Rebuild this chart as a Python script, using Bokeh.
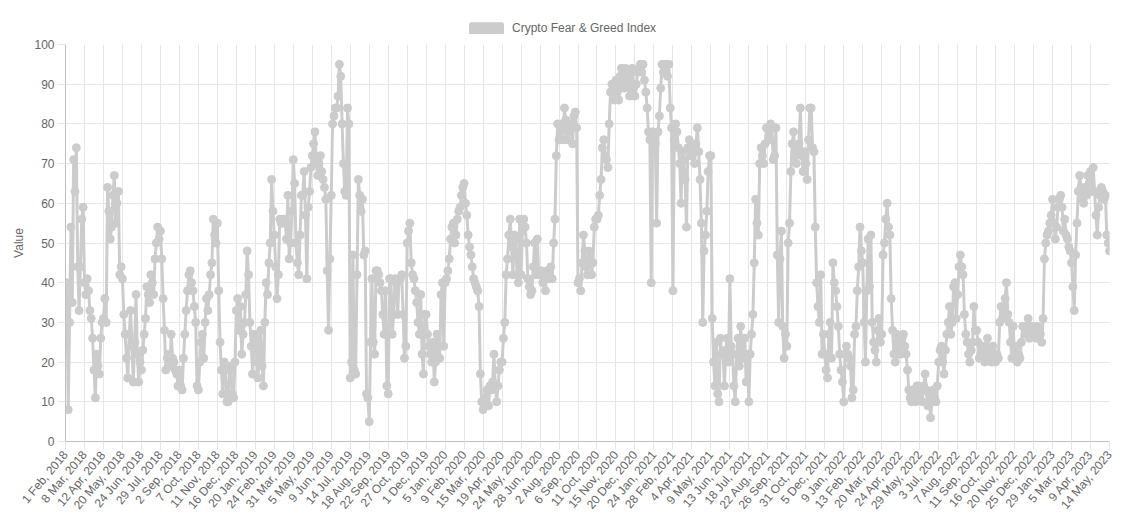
import numpy as np
from bokeh.plotting import figure
from bokeh.layouts import column
from bokeh.models import Range1d, FixedTicker, Legend, LegendItem
from bokeh.embed import file_html
from bokeh.resources import INLINE

# one sample every 2.5 entries of the daily series (14 samples per label step)
sample_every = 2.5
label_every = 35

tick_labels = [
    "1 Feb, 2018", "8 Mar, 2018", "12 Apr, 2018", "20 May, 2018", "24 Jun, 2018",
    "29 Jul, 2018", "2 Sep, 2018", "7 Oct, 2018", "11 Nov, 2018", "16 Dec, 2018",
    "20 Jan, 2019", "24 Feb, 2019", "31 Mar, 2019", "5 May, 2019", "9 Jun, 2019",
    "14 Jul, 2019", "18 Aug, 2019", "22 Sep, 2019", "27 Oct, 2019", "1 Dec, 2019",
    "5 Jan, 2020", "9 Feb, 2020", "15 Mar, 2020", "19 Apr, 2020", "24 May, 2020",
    "28 Jun, 2020", "2 Aug, 2020", "6 Sep, 2020", "11 Oct, 2020", "15 Nov, 2020",
    "20 Dec, 2020", "24 Jan, 2021", "28 Feb, 2021", "4 Apr, 2021", "9 May, 2021",
    "13 Jun, 2021", "18 Jul, 2021", "22 Aug, 2021", "26 Sep, 2021", "31 Oct, 2021",
    "5 Dec, 2021", "9 Jan, 2022", "13 Feb, 2022", "20 Mar, 2022", "24 Apr, 2022",
    "29 May, 2022", "3 Jul, 2022", "7 Aug, 2022", "11 Sep, 2022", "16 Oct, 2022",
    "20 Nov, 2022", "25 Dec, 2022", "29 Jan, 2023", "5 Mar, 2023", "9 Apr, 2023",
    "14 May, 2023",
]

# Feb 2018 - Jan 2019
values_2018 = [
    30, 40, 8, 30, 54, 35, 71, 63, 74, 44, 33, 44, 56, 59,
    40, 37, 41, 38, 33, 31, 26, 18, 11, 22, 19, 17, 26, 30,
    31, 36, 30, 64, 58, 51, 54, 62, 67, 55, 60, 63, 42, 44,
    41, 32, 27, 21, 16, 27, 33, 24, 15, 25, 37, 22, 15, 20,
    18, 23, 27, 31, 39, 37, 35, 42, 40, 37, 46, 50, 54, 51,
    53, 46, 36, 28, 18, 21, 22, 19, 27, 21, 20, 18, 17, 14,
    18, 14, 13, 21, 27, 33, 38, 42, 43, 40, 38, 34, 30, 14,
    13, 20, 25, 27, 21, 30, 36, 33, 37, 42, 45, 56, 52, 50,
    55, 38, 25, 18, 12, 20, 18, 10, 10, 18, 19, 12, 11, 20,
    33, 36, 28, 34, 22, 27, 30, 37, 48, 42, 30, 24, 17, 27,
]
# Jan 2019 - Jan 2020
values_2019 = [
    26, 20, 16, 24, 28, 19, 14, 30, 40, 37, 45, 50, 66, 58,
    52, 44, 36, 42, 56, 55, 55, 56, 56, 51, 62, 46, 50, 58,
    71, 65, 50, 45, 42, 52, 62, 62, 68, 57, 41, 59, 63, 69,
    72, 75, 78, 70, 67, 70, 72, 68, 66, 64, 61, 43, 28, 46,
    62, 80, 82, 84, 84, 87, 95, 92, 80, 70, 63, 62, 84, 80,
    16, 20, 47, 18, 17, 42, 66, 62, 58, 61, 47, 48, 12, 11,
    5, 25, 41, 25, 22, 43, 43, 42, 40, 38, 32, 27, 38, 14,
    12, 41, 41, 27, 32, 41, 40, 32, 41, 41, 42, 32, 21, 24,
    50, 53, 55, 45, 42, 41, 38, 35, 30, 27, 37, 22, 17, 32,
    32, 27, 24, 22, 20, 25, 15, 20, 27, 24, 21, 37, 40, 24,
]
# Jan 2020 - Jan 2021
values_2020 = [
    40, 41, 43, 46, 51, 54, 55, 50, 52, 56, 58, 59, 62, 64,
    65, 60, 57, 52, 49, 47, 44, 41, 40, 39, 38, 34, 17, 10,
    8, 11, 10, 13, 9, 14, 13, 15, 22, 14, 10, 14, 18, 20,
    20, 26, 30, 42, 46, 52, 56, 49, 42, 52, 51, 42, 40, 56,
    42, 53, 56, 54, 50, 41, 39, 37, 38, 44, 50, 42, 51, 42,
    42, 43, 40, 42, 38, 43, 42, 41, 44, 41, 50, 56, 72, 80,
    76, 79, 80, 76, 84, 81, 76, 78, 80, 80, 75, 82, 83, 79,
    40, 41, 38, 45, 52, 48, 44, 42, 48, 46, 42, 45, 54, 56,
    56, 57, 62, 66, 74, 76, 72, 71, 69, 80, 88, 90, 90, 86,
    91, 88, 86, 92, 94, 90, 89, 94, 93, 90, 87, 93, 94, 89,
    87, 90, 93, 94, 95, 93, 95, 91, 88, 84, 78, 76, 40, 78,
]
# Jan 2021 - Jan 2022
values_2021 = [
    76, 75, 55, 78, 82, 89, 95, 93, 94, 95, 92, 95, 84, 79,
    38, 76, 80, 78, 74, 70, 60, 73, 71, 66, 54, 74, 76, 72,
    72, 74, 70, 75, 79, 73, 66, 55, 30, 48, 52, 58, 68, 72,
    72, 31, 20, 14, 25, 12, 10, 26, 22, 22, 14, 23, 26, 20,
    41, 24, 22, 14, 10, 22, 26, 19, 29, 24, 21, 26, 15, 22,
    10, 22, 27, 32, 45, 61, 55, 52, 70, 74, 72, 70, 75, 79,
    79, 76, 80, 79, 71, 72, 79, 47, 30, 46, 53, 29, 21, 27,
    24, 50, 55, 68, 75, 78, 72, 70, 73, 75, 84, 72, 68, 73,
    70, 66, 76, 84, 84, 74, 73, 54, 40, 34, 30, 42, 22, 27,
    22, 18, 16, 27, 30, 21, 45, 40, 38, 34, 29, 22, 18, 15,
]
# Jan 2022 - Jan 2023
values_2022 = [
    10, 22, 24, 22, 21, 19, 11, 13, 27, 29, 38, 44, 54, 48,
    45, 30, 20, 38, 51, 39, 52, 30, 25, 23, 20, 28, 31, 25,
    27, 47, 50, 56, 60, 54, 52, 36, 28, 22, 20, 27, 25, 22,
    22, 26, 27, 24, 22, 18, 13, 11, 10, 13, 11, 10, 14, 14,
    12, 13, 10, 14, 17, 13, 9, 12, 6, 10, 13, 11, 10, 14,
    20, 23, 24, 20, 17, 23, 27, 30, 34, 27, 30, 39, 40, 31,
    37, 44, 47, 44, 42, 32, 27, 25, 22, 20, 23, 25, 34, 28,
    28, 25, 21, 22, 24, 22, 20, 24, 26, 22, 21, 20, 24, 22,
    20, 22, 21, 30, 34, 31, 33, 36, 40, 32, 30, 25, 21, 29,
    21, 24, 20, 22, 21, 25, 29, 29, 27, 29, 31, 26, 28, 29,
]
# Dec 2022 - May 2023
values_2023 = [
    27, 28, 26, 29, 28, 27, 25, 31, 46, 50, 52, 53, 55, 57,
    61, 55, 51, 54, 59, 61, 62, 59, 53, 56, 52, 51, 49, 48,
    45, 39, 33, 47, 55, 63, 67, 64, 61, 60, 64, 62, 67, 65,
    68, 63, 69, 63, 57, 52, 59, 62, 64, 63, 61, 62, 52, 50,
    48,
]

values = values_2018 + values_2019 + values_2020 + values_2021 + values_2022 + values_2023
x = np.arange(len(values)) * sample_every
tick_pos = [int(t) for t in np.arange(len(tick_labels)) * label_every]

SERIES = "#cccccc"
TEXT = "#666666"
GRID = "#e6e6e6"
AXIS = "#bfbfbf"
FONT = "Liberation Sans"
W = 1120
LEG_H = 36

# ---- legend strip -------------------------------------------------------
leg_fig = figure(
    width=W, height=LEG_H, x_axis_type=None, y_axis_type=None,
    output_backend="svg", toolbar_location=None,
    min_border=0, x_range=Range1d(0, 1), y_range=Range1d(0, 1),
)
leg_fig.outline_line_color = None
leg_fig.xgrid.visible = False
leg_fig.ygrid.visible = False
# a swatch renderer kept outside the visible range; only its legend glyph shows
box_r = leg_fig.quad(left=[2], right=[3], top=[3], bottom=[2], fill_color=SERIES,
                     fill_alpha=1.0, line_color=SERIES, line_width=3)
legend = Legend(
    items=[LegendItem(label="Crypto Fear & Greed Index", renderers=[box_r])],
    location=(401, 1), orientation="horizontal",
    glyph_width=40, glyph_height=12, label_standoff=6,
    label_text_font=FONT, label_text_font_size="12px", label_text_color=TEXT,
    border_line_alpha=0, background_fill_alpha=0, padding=0, margin=0, spacing=0,
)
leg_fig.add_layout(legend, "center")

# ---- main chart ---------------------------------------------------------
p = figure(
    width=W, height=520 - LEG_H,
    x_range=Range1d(0, tick_pos[-1]), y_range=Range1d(0, 100),
    output_backend="svg", toolbar_location=None,
    min_border_left=65, min_border_right=11, min_border_top=44 - LEG_H, min_border_bottom=79,
)
p.outline_line_color = None

p.line(x, values, line_color=SERIES, line_width=3)
p.scatter(x, values, size=8, fill_color=SERIES, line_color=SERIES, line_width=1)

p.xaxis.ticker = FixedTicker(ticks=tick_pos)
p.xaxis.major_label_overrides = {t: lab for t, lab in zip(tick_pos, tick_labels)}
p.xaxis.major_label_orientation = float(np.deg2rad(50))
p.yaxis.ticker = FixedTicker(ticks=list(range(0, 101, 10)))
p.yaxis.axis_label = "Value"

for ax in (p.xaxis[0], p.yaxis[0]):
    ax.axis_line_color = AXIS
    ax.axis_line_width = 1
    ax.major_tick_line_color = GRID
    ax.major_tick_in = 0
    ax.major_tick_out = 8
    ax.minor_tick_line_color = None
    ax.major_label_text_color = TEXT
    ax.major_label_text_font = FONT
    ax.major_label_text_font_size = "12px"
    ax.major_label_standoff = 3
    ax.axis_label_text_color = TEXT
    ax.axis_label_text_font = FONT
    ax.axis_label_text_font_size = "12px"
    ax.axis_label_text_font_style = "normal"

p.xgrid.ticker = FixedTicker(ticks=tick_pos)
p.ygrid.ticker = FixedTicker(ticks=list(range(0, 101, 10)))
p.xgrid.grid_line_color = GRID
p.ygrid.grid_line_color = GRID

layout = column(leg_fig, p, spacing=0)
open("out.html", "w").write(file_html(layout, INLINE))
